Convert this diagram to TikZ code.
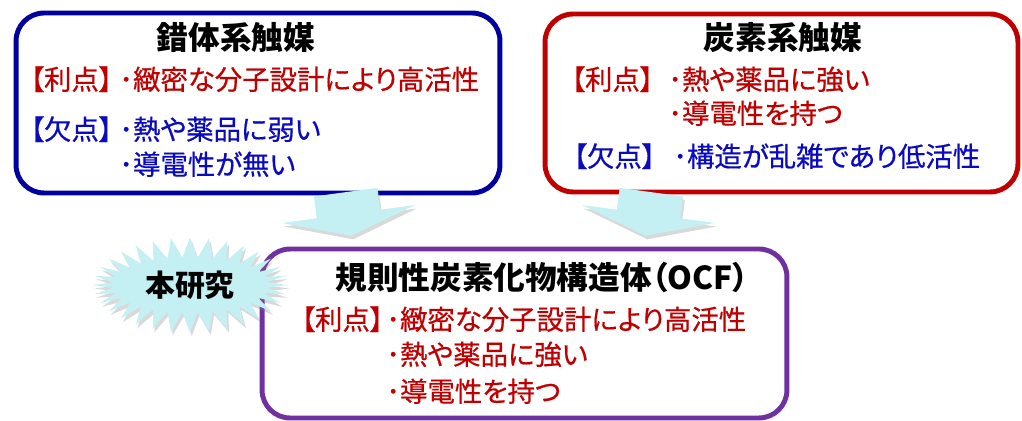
\documentclass[tikz,border=0pt]{standalone}
\usepackage{fontspec}
\setmainfont{Noto Sans CJK JP}[RawFeature=+palt]
\newfontfamily\bodyfont{Noto Sans CJK JP}[RawFeature=+palt, FakeBold=0.6]
\usetikzlibrary{shapes.symbols, shadows, positioning}

\definecolor{boxblue}{RGB}{0,0,160}
\definecolor{boxred}{RGB}{192,0,0}
\definecolor{boxpurple}{RGB}{112,48,160}
\definecolor{txtblue}{RGB}{10,10,190}
\definecolor{txtred}{RGB}{192,0,0}
\definecolor{pale}{RGB}{196,240,244}

\begin{document}
\begin{tikzpicture}[x=0.02cm, y=-0.02cm, line join=round]
\tikzstyle{frame}=[draw, line width=2.8pt, rounded corners=0.56cm, fill=white, inner sep=0pt]
\tikzstyle{boxtitle}=[font=\fontsize{18}{20}\selectfont\bfseries, text=black, inner sep=0pt, text height=0.88em, text depth=0.12em]
\tikzstyle{boxline}=[font=\bodyfont\fontsize{15.6}{18}\selectfont, inner sep=0pt, anchor=west, text height=0.88em, text depth=0.12em]
\tikzstyle{bigarrow}=[fill=pale, drop shadow={shadow xshift=1pt, shadow yshift=-2pt, opacity=0.3}]
\useasboundingbox (0,0) rectangle (1022,421);

\node[frame, draw=boxblue, minimum width=9.68cm, minimum height=3.6cm] (complex) at (258,103) {};
\node[frame, draw=boxred, minimum width=9.46cm, minimum height=3.56cm] (carbon) at (781.5,103) {};
\node[frame, draw=boxpurple, minimum width=10.5cm, minimum height=3.38cm] (ocf) at (524.5,333.5) {};

\begin{scope}[shift={(348.5,214)}, rotate=7.7]
\path[bigarrow] (-32,-22) -- (32,-22) -- (32,0) -- (67,0) -- (0,22) -- (-67,0) -- (-32,0) -- cycle;
\end{scope}
\begin{scope}[shift={(648.5,214)}, rotate=-7.7]
\path[bigarrow] (-32,-22) -- (32,-22) -- (32,0) -- (67,0) -- (0,22) -- (-67,0) -- (-32,0) -- cycle;
\end{scope}

\node[starburst, fill=pale, minimum width=3.9cm, minimum height=1.9cm, starburst points=32,
  starburst point height=0.4cm, random starburst=0, inner sep=0pt, font=\fontsize{17}{19}\selectfont\bfseries,
  drop shadow={shadow xshift=1pt, shadow yshift=-2pt, opacity=0.3}] (study) at (190,285) {本研究};

\node[boxtitle] (complextitle) at (236,43) {錯体系触媒};
\node[boxline, text=txtred] (complexgood) at (30,83) {【利点】};
\node[boxline, text=txtred] (complexgood1) at (119,83) {･緻密な分子設計により高活性};
\node[boxline, text=txtblue] (complexbad) at (30,133) {【欠点】};
\node[boxline, text=txtblue] (complexbad1) at (119,133) {･熱や薬品に弱い};
\node[boxline, text=txtblue] (complexbad2) at (119,168) {･導電性が無い};

\node[boxtitle] (carbontitle) at (783,43) {炭素系触媒};
\node[boxline, text=txtred] (carbongood) at (571,83) {【利点】};
\node[boxline, text=txtred] (carbongood1) at (668,83) {･熱や薬品に強い};
\node[boxline, text=txtred] (carbongood2) at (668,117) {･導電性を持つ};
\node[boxline, text=txtblue] (carbonbad) at (573,160) {【欠点】};
\node[boxline, text=txtblue] (carbonbad1) at (673,160) {･構造が乱雑であり低活性};

\node[boxtitle] (ocftitle) at (542,283) {規則性炭素化物構造体（OCF）};
\node[boxline, text=txtred] (ocfgood) at (301,323) {【利点】};
\node[boxline, text=txtred] (ocfgood1) at (386,323) {･緻密な分子設計により高活性};
\node[boxline, text=txtred] (ocfgood2) at (386,358) {･熱や薬品に強い};
\node[boxline, text=txtred] (ocfgood3) at (386,395) {･導電性を持つ};
\end{tikzpicture}
\end{document}
